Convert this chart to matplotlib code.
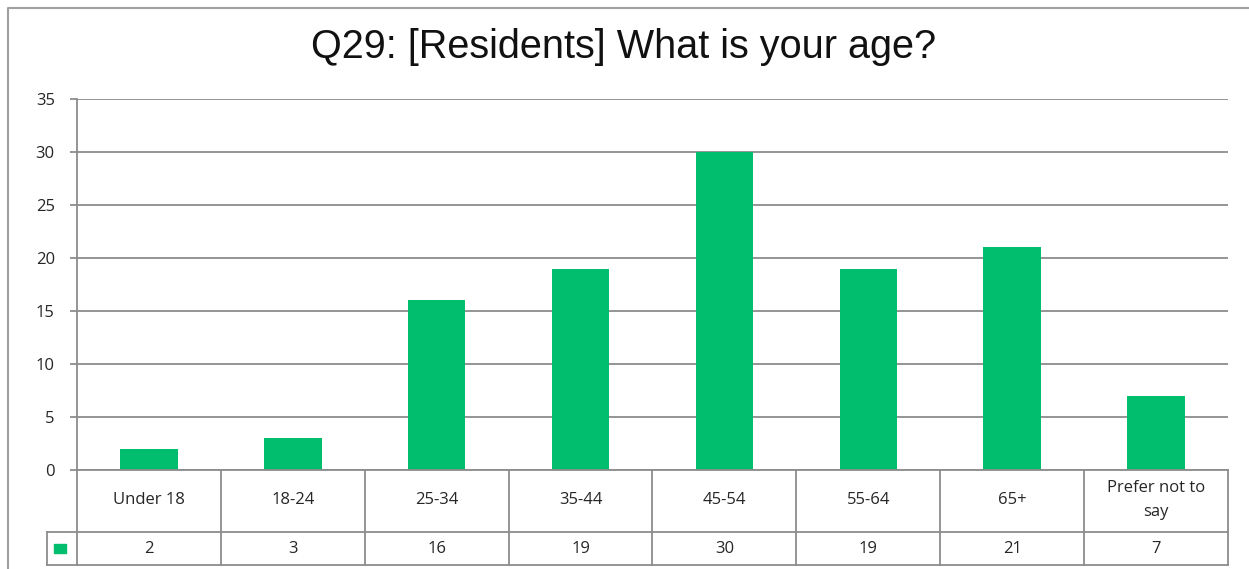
import matplotlib
matplotlib.use("Agg")
import matplotlib.pyplot as plt
from matplotlib.patches import Rectangle

categories = ["Under 18", "18-24", "25-34", "35-44", "45-54", "55-64", "65+", "Prefer not to\nsay"]
counts = [2, 3, 16, 19, 30, 19, 21, 7]
y_ticks = [0, 5, 10, 15, 20, 25, 30, 35]

title = "Q29: [Residents] What is your age?"
bar_color = "#00BE6E"
line_color = "#8C8C8C"
txt_color = "#262626"

W, H = 1249, 569
fig = plt.figure(figsize=(W / 100, H / 100), dpi=100)


def px_axes(x0, y0, x1, y1):
    # pixel box (top-left origin) -> figure fraction
    return fig.add_axes([x0 / W, 1 - y1 / H, (x1 - x0) / W, (y1 - y0) / H])


# outer chart frame
frame = fig.add_axes([0, 0, 1, 1])
frame.set_axis_off()
frame.set_xlim(0, W)
frame.set_ylim(H, 0)
frame.plot([8, 8, W], [H, 8, 8], color="#A0A0A0", lw=1.5)

fig.text(624 / W, 1 - 47 / H, title, ha="center", va="center",
         fontsize=28.5, family="Liberation Sans", color="#111111")

# plot area
ax = px_axes(77, 99, 1228, 470)
n = len(categories)
x = list(range(n))
ax.bar(x, counts, width=0.4, color=bar_color, zorder=3)
ax.set_xlim(-0.5, n - 0.5)
ax.set_ylim(0, 35)
ax.set_yticks(y_ticks)
ax.set_yticklabels([str(v) for v in y_ticks], fontsize=12, family="Open Sans", color=txt_color)
ax.tick_params(axis="y", length=5, color=line_color, width=1.3, pad=11)
ax.set_xticks([])
ax.grid(axis="y", color=line_color, lw=1.3, zorder=1)
for s in ["top", "right", "bottom"]:
    ax.spines[s].set_visible(False)
ax.spines["left"].set_color(line_color)
ax.spines["left"].set_linewidth(1.3)

# data table beneath the plot
tb = px_axes(77, 470, 1228, 565)
tb.set_xlim(-0.5, n - 0.5)
tb.set_ylim(95, 0)
tb.set_axis_off()
lk = dict(color=line_color, lw=1.3, clip_on=False)
tb.plot([-0.5, n - 0.5], [0, 0], **lk)
tb.plot([-0.5, n - 0.5], [62, 62], **lk)
tb.plot([-0.5, n - 0.5], [95, 95], **lk)
for i in range(n + 1):
    tb.plot([i - 0.5, i - 0.5], [0, 95], **lk)
# legend key cell to the left
cell = 30 / (1151 / n)
tb.plot([-0.5 - cell, -0.5], [62, 62], **lk)
tb.plot([-0.5 - cell, -0.5], [95, 95], **lk)
tb.plot([-0.5 - cell, -0.5 - cell], [62, 95], **lk)
tb.add_patch(Rectangle((-0.5 - cell * 0.77, 74), cell * 0.4, 9, color=bar_color, clip_on=False))
for i, (c, v) in enumerate(zip(categories, counts)):
    tb.text(i, 30, c, ha="center", va="center", fontsize=12, family="Open Sans",
            color=txt_color, linespacing=1.75)
    tb.text(i, 79, str(v), ha="center", va="center", fontsize=12, family="Open Sans", color=txt_color)

fig.savefig("out.png", dpi=100)
